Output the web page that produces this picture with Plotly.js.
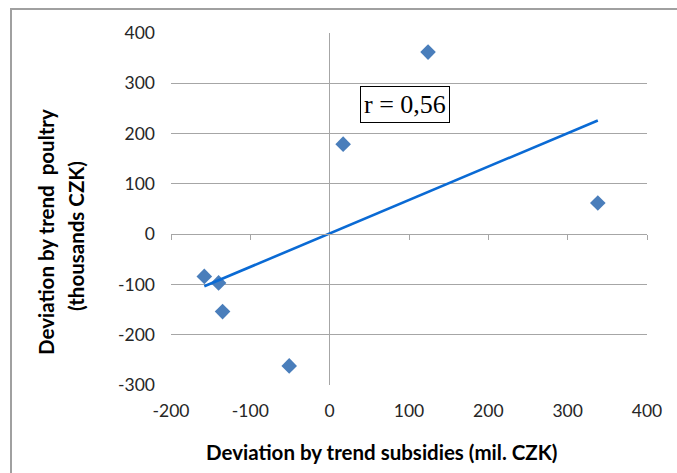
<!DOCTYPE html>
<html>
<head>
<meta charset="utf-8">
<script src="https://cdn.plot.ly/plotly-3.0.1.min.js"></script>
<style>
  html, body { margin: 0; padding: 0; background: #ffffff; }
  #chart { width: 677px; height: 473px; }
</style>
</head>
<body>
<div id="chart"></div>
<script>
// Data
const subsidiesDev = [-158, -140, -135, -51, 17, 124, 338];   // x: mil. CZK
const poultryDev   = [-84, -97, -154, -262, 179, 362, 62];     // y: thousands CZK
const xTickVals = [-200, -100, 0, 100, 200, 300, 400];
const yTickVals = [-300, -200, -100, 0, 100, 200, 300, 400];
const xTickText = xTickVals.map(String);
const yTickText = yTickVals.map(String);
const corrLabel = 'r = 0,56';
const xTitle = 'Deviation by trend subsidies (mil. CZK)';
const yTitleLine1 = 'Deviation by trend  poultry';
const yTitleLine2 = '(thousands CZK)';

// Linear trend line (least squares) from the data
const n = subsidiesDev.length;
const mx = subsidiesDev.reduce((a, b) => a + b, 0) / n;
const my = poultryDev.reduce((a, b) => a + b, 0) / n;
let sxy = 0, sxx = 0;
for (let i = 0; i < n; i++) {
  sxy += (subsidiesDev[i] - mx) * (poultryDev[i] - my);
  sxx += (subsidiesDev[i] - mx) ** 2;
}
const slope = sxy / sxx;
const intercept = my - slope * mx;
const xMin = Math.min(...subsidiesDev), xMax = Math.max(...subsidiesDev);
const trendX = [xMin, xMax];
const trendY = trendX.map(v => intercept + slope * v);

const gridCol = '#a6a6a6';
const tickFont = { family: 'Lato, "Open Sans", sans-serif', size: 17.5, color: '#262626' };
const titleFont = { family: 'Lato, "Open Sans", sans-serif', size: 20.5, color: '#000000', weight: 'bold' };

const traces = [
  {
    x: trendX, y: trendY,
    xaxis: 'x2', yaxis: 'y',
    type: 'scatter', mode: 'lines',
    line: { color: '#0a6ad4', width: 2.6 },
    hoverinfo: 'skip', showlegend: false
  },
  {
    x: subsidiesDev, y: poultryDev,
    type: 'scatter', mode: 'markers',
    marker: { symbol: 'diamond', size: 12, color: '#4a7ebb' },
    hoverinfo: 'x+y', showlegend: false
  }
];

const layout = {
  width: 677, height: 473,
  margin: { l: 171, r: 30, t: 33, b: 88 },
  paper_bgcolor: '#ffffff', plot_bgcolor: '#ffffff',
  showlegend: false,
  xaxis: {
    range: [-200, 400], tickvals: xTickVals, ticktext: xTickText,
    showgrid: false, zeroline: true, zerolinecolor: gridCol, zerolinewidth: 1,
    showline: false, ticks: '', ticklabelstandoff: 13,
    tickfont: tickFont, fixedrange: true
  },
  xaxis2: {
    range: [-200, 400], tickvals: xTickVals, overlaying: 'x', matches: 'x',
    anchor: 'free', position: 3 / 7,
    showgrid: false, zeroline: false, showline: true, linecolor: gridCol, linewidth: 1,
    ticks: 'outside', ticklen: 5, tickcolor: gridCol, tickwidth: 1,
    showticklabels: false, fixedrange: true
  },
  yaxis: {
    range: [-300, 400], tickvals: yTickVals, ticktext: yTickText,
    showgrid: true, gridcolor: gridCol, gridwidth: 1,
    zeroline: false, showline: false, ticks: '', ticklabelstandoff: 15,
    tickfont: tickFont, fixedrange: true
  },
  annotations: [
    {
      x: 95, y: 258, xref: 'x', yref: 'y', text: corrLabel, showarrow: false,
      font: { family: '"Liberation Serif", "Times New Roman", serif', size: 26, color: '#000000' },
      bgcolor: '#ffffff', bordercolor: '#000000', borderwidth: 1, borderpad: 3
    },
    {
      x: 0.443, y: -0.19, xref: 'paper', yref: 'paper', text: xTitle, showarrow: false,
      font: titleFont, xanchor: 'center', yanchor: 'middle'
    },
    {
      x: (46 - 171) / 476, y: (385 - 232) / 352, xref: 'paper', yref: 'paper',
      text: yTitleLine1, showarrow: false, textangle: -90,
      font: titleFont, xanchor: 'center', yanchor: 'middle'
    },
    {
      x: (76 - 171) / 476, y: (385 - 236) / 352, xref: 'paper', yref: 'paper',
      text: yTitleLine2, showarrow: false, textangle: -90,
      font: titleFont, xanchor: 'center', yanchor: 'middle'
    }
  ],
  shapes: [
    {
      type: 'rect', xref: 'paper', yref: 'paper',
      x0: (11 - 171) / 476, x1: 1.2, y0: -0.4, y1: 1 + (33 - 9) / 352,
      line: { color: '#a0a0a0', width: 2 }, fillcolor: 'rgba(0,0,0,0)', layer: 'below'
    }
  ]
};

Plotly.newPlot('chart', traces, layout, { displayModeBar: false, staticPlot: true });
</script>
</body>
</html>
